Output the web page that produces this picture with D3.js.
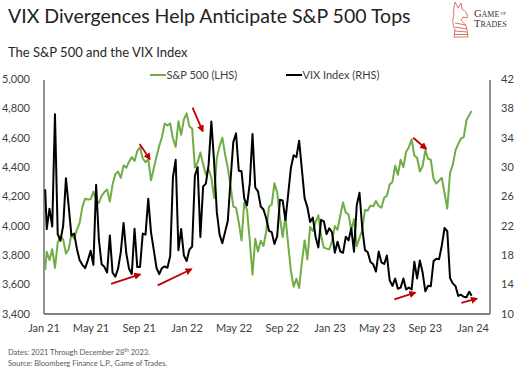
<!DOCTYPE html>
<html><head><meta charset="utf-8">
<script src="https://cdn.jsdelivr.net/npm/d3@7"></script>
<style>
body{margin:0;background:#fff}
svg{display:block;font-family:Lato,"Open Sans",sans-serif}
</style>
</head><body>
<svg id="c" width="514" height="369"></svg>
<script>
// ---------- DATA ----------
const startDate = "2021-01-04";
const endDate = "2023-12-28";
// S&P 500 weekly closes (first = Jan 4 2021, then Fridays, last = Dec 28 2023)
const spx2021 = [3700,
  3824,3768,3841,3714,3886,3934,3906,3811,3842,3943,3913,3975,4020,4129,4185,4180,4181,4233,4174,4156,4204,4230,4247,4166,4281,4352,
  4370,4327,4412,4395,4437,4468,4442,4509,4535,4459,4433,4455,4310,4391,4471,4545,4605,4697,4683,4698,4595,4538,4712,4620,4726,4766];
const spx2022 = [4677,4662,4398,4432,4500,4419,4349,4385,4329,4190,4463,4543,4600,4488,4393,4272,4132,4123,4024,3901,4158,4109,3901,3667,3912,3825,
  3899,3863,3962,4130,4145,4290,4228,4058,3924,4067,3873,3693,3586,3640,3577,3752,3901,3771,3993,3965,4026,4072,3934,3852,3845,3840];
const spx2023 = [3895,3999,3973,4071,4160,4090,4079,3970,4046,3862,3917,3971,4109,4105,4138,4133,4169,4136,4124,4192,4205,4282,4299,4410,4348,4450,
  4399,4505,4536,4590,4478,4464,4370,4406,4516,4457,4450,4320,4288,4308,4327,4224,4117,4358,4415,4514,4559,4595,4604,4719,4754,
  4783];
// VIX weekly values (same dates)
const vix2021 = [26.97,
  21.56,24.34,21.91,37.2,20.87,19.97,22.05,28.5,24.66,20.69,20.95,18.86,17.33,16.69,16.25,17.33,18.61,16.69,27.6,20.15,16.76,16.42,15.65,20.70,15.62,15.07,
  16.18,18.45,22.4,18.24,16.15,15.45,21.6,16.39,16.41,20.95,20.81,25.7,21.15,18.77,16.30,15.43,16.26,16.48,16.29,17.91,28.62,31.0,18.69,21.57,17.96,17.22];
const vix2022 = [18.76,19.19,28.85,30.0,20.5,27.36,27.75,30.3,36.2,30.75,23.87,20.81,19.63,21.16,22.7,28.21,33.4,34.6,29.5,29.43,25.72,24.79,27.75,34.5,27.23,26.70,
  24.64,24.23,23.03,21.33,21.15,19.53,20.60,25.56,25.47,22.79,26.30,29.92,31.62,31.36,33.6,29.69,25.75,24.55,22.52,23.12,20.50,19.06,22.83,22.62,20.87,21.67];
const vix2023 = [21.13,18.35,19.85,18.51,18.33,20.53,20.02,21.67,18.49,24.80,26.5,21.74,18.70,18.40,17.07,16.77,15.78,18.5,17.03,16.81,17.95,14.60,13.83,14.82,13.44,13.59,
  14.83,13.34,13.60,13.33,17.10,14.84,17.30,15.68,13.09,13.84,13.79,17.20,17.52,17.45,19.32,21.71,21.27,14.91,14.17,13.80,12.46,12.63,12.35,12.28,13.03,
  12.47];
const xTickLabels = ["Jan 21","May 21","Sep 21","Jan 22","May 22","Sep 22","Jan 23","May 23","Sep 23","Jan 24"];
const leftTicks = [3400,3600,3800,4000,4200,4400,4600,4800,5000];
const rightTicks = [10,14,18,22,26,30,34,38,42];
const seriesNames = ["S&P 500 (LHS)","VIX Index (RHS)"];
// divergence arrows: [axis, startDate, startValue, endDate, endValue]
const arrows = [
  ["spx","2021-09-02",4557,"2021-09-28",4455],
  ["spx","2022-01-15",4805,"2022-02-10",4645],
  ["spx","2023-08-01",4600,"2023-09-03",4525],
  ["vix","2021-06-21",14.1,"2021-09-03",15.4],
  ["vix","2021-10-18",13.9,"2022-01-12",16.1],
  ["vix","2023-06-14",12.0,"2023-08-06",12.9],
  ["vix","2023-12-02",11.5,"2024-01-10",12.1]
];

// ---------- BUILD ----------
const parse = d3.timeParse("%Y-%m-%d");
const dates = [parse(startDate), ...d3.timeFriday.range(new Date(2021,0,5), new Date(2023,11,23)), parse(endDate)];
const spx = spx2021.concat(spx2022, spx2023);
const vix = vix2021.concat(vix2022, vix2023);
const n = Math.min(dates.length, spx.length, vix.length);
const spxData = d3.range(n).map(i => ({d: dates[i], v: spx[i]}));
const vixData = d3.range(n).map(i => ({d: dates[i], v: vix[i]}));

const L = 44, R = 490, T = 79, B = 314;
const x = d3.scaleTime().domain([new Date(2021,0,1), new Date(2024,1,13)]).range([L, R]);
const yL = d3.scaleLinear().domain([3400,5000]).range([B, T]);
const yR = d3.scaleLinear().domain([10,42]).range([B, T]);

const svg = d3.select("#c");
const txt = "#404040";

// title
svg.append("text").attr("x",8).attr("y",23).attr("font-size",19.5).attr("fill","#222")
  .text("VIX Divergences Help Anticipate S&P 500 Tops");
svg.append("text").attr("x",8).attr("y",57).attr("font-size",13).attr("fill","#262626")
  .text("The S&P 500 and the VIX Index");

// logo
const logo = svg.append("g").attr("fill","none").attr("stroke","#c8553d").attr("stroke-width",0.8);
logo.append("path").attr("d","M455,2 L458,8 L461,3 L462,9 C466,11 468,14 467,18 L463,17 L461,20 C464,23 467,26 467,30 L468,37 L454,37 L455,30 C453,26 452,20 454,15 C453,11 454,7 455,2 Z");
logo.append("path").attr("d","M455,23 L466,25 M455,27 L467,29 M455,31 L467,32 M454,34.5 L468,34.5");
svg.append("text").attr("x",474).attr("y",17).attr("font-family","'Liberation Serif',serif").attr("font-size",10.5).attr("fill","#333")
  .html('G<tspan font-size="8">AME</tspan><tspan font-size="4.5" dy="-2.5"> OF</tspan>');
svg.append("text").attr("x",474).attr("y",27).attr("font-family","'Liberation Serif',serif").attr("font-size",10.5).attr("fill","#333")
  .html('T<tspan font-size="8">RADES</tspan>');

// axes lines
const axisCol = "#595959";
svg.append("line").attr("x1",L).attr("x2",L).attr("y1",T+1).attr("y2",B).attr("stroke",axisCol).attr("stroke-width",1.3);
svg.append("line").attr("x1",R).attr("x2",R).attr("y1",T+1).attr("y2",B).attr("stroke",axisCol).attr("stroke-width",1.3);
svg.append("line").attr("x1",L).attr("x2",R).attr("y1",B).attr("y2",B).attr("stroke",axisCol).attr("stroke-width",1.3);

// left axis labels
const fmt = d3.format(",");
svg.append("g").selectAll("text").data(leftTicks).join("text")
  .attr("x",30).attr("y",d=>yL(d)).attr("dy","0.35em").attr("text-anchor","end")
  .attr("font-size",11).attr("fill",txt).text(d=>fmt(d));
// right axis labels
svg.append("g").selectAll("text").data(rightTicks).join("text")
  .attr("x",501).attr("y",d=>yR(d)).attr("dy","0.35em").attr("text-anchor","start")
  .attr("font-size",11).attr("fill",txt).text(d=>d);
// x labels
const xTickDates = xTickLabels.map(s => d3.timeParse("%b %y")(s));
svg.append("g").selectAll("text").data(xTickLabels).join("text")
  .attr("x",(d,i)=>x(xTickDates[i])).attr("y",332).attr("text-anchor","middle")
  .attr("font-size",11).attr("fill",txt).text(d=>d);

// lines
const lineL = d3.line().x(d=>x(d.d)).y(d=>yL(d.v));
const lineR = d3.line().x(d=>x(d.d)).y(d=>yR(d.v));
svg.append("path").datum(spxData).attr("d",lineL).attr("fill","none").attr("stroke","#70ad47").attr("stroke-width",2).attr("stroke-linejoin","round");
svg.append("path").datum(vixData).attr("d",lineR).attr("fill","none").attr("stroke","#000").attr("stroke-width",2).attr("stroke-linejoin","round");

// arrows
svg.append("defs").append("marker").attr("id","ah").attr("viewBox","0 0 10 10").attr("refX",8).attr("refY",5)
  .attr("markerWidth",4).attr("markerHeight",4).attr("orient","auto")
  .append("path").attr("d","M0,0 L10,5 L0,10 Z").attr("fill","#c00000");
svg.append("g").selectAll("line").data(arrows).join("line")
  .attr("x1",a=>x(parse(a[1]))).attr("y1",a=>(a[0]==="spx"?yL:yR)(a[2]))
  .attr("x2",a=>x(parse(a[3]))).attr("y2",a=>(a[0]==="spx"?yL:yR)(a[4]))
  .attr("stroke","#c00000").attr("stroke-width",1.8).attr("marker-end","url(#ah)");

// legend
const lg = [[150,"#70ad47",seriesNames[0]],[286,"#000",seriesNames[1]]];
lg.forEach(([lx,c,t])=>{
  svg.append("line").attr("x1",lx).attr("x2",lx+16).attr("y1",75).attr("y2",75).attr("stroke",c).attr("stroke-width",2);
  svg.append("text").attr("x",lx+16.5).attr("y",79).attr("font-size",11).attr("fill",txt).text(t);
});

// footnotes
svg.append("text").attr("x",8).attr("y",355).attr("font-size",7.5).attr("fill","#595959")
  .html('Dates: 2021 Through December 28<tspan font-size="5" dy="-3">th</tspan><tspan dy="3"> 2023.</tspan>');
svg.append("text").attr("x",8).attr("y",365.5).attr("font-size",7.5).attr("fill","#595959")
  .text("Source: Bloomberg Finance L.P., Game of Trades.");
</script>
</body></html>
